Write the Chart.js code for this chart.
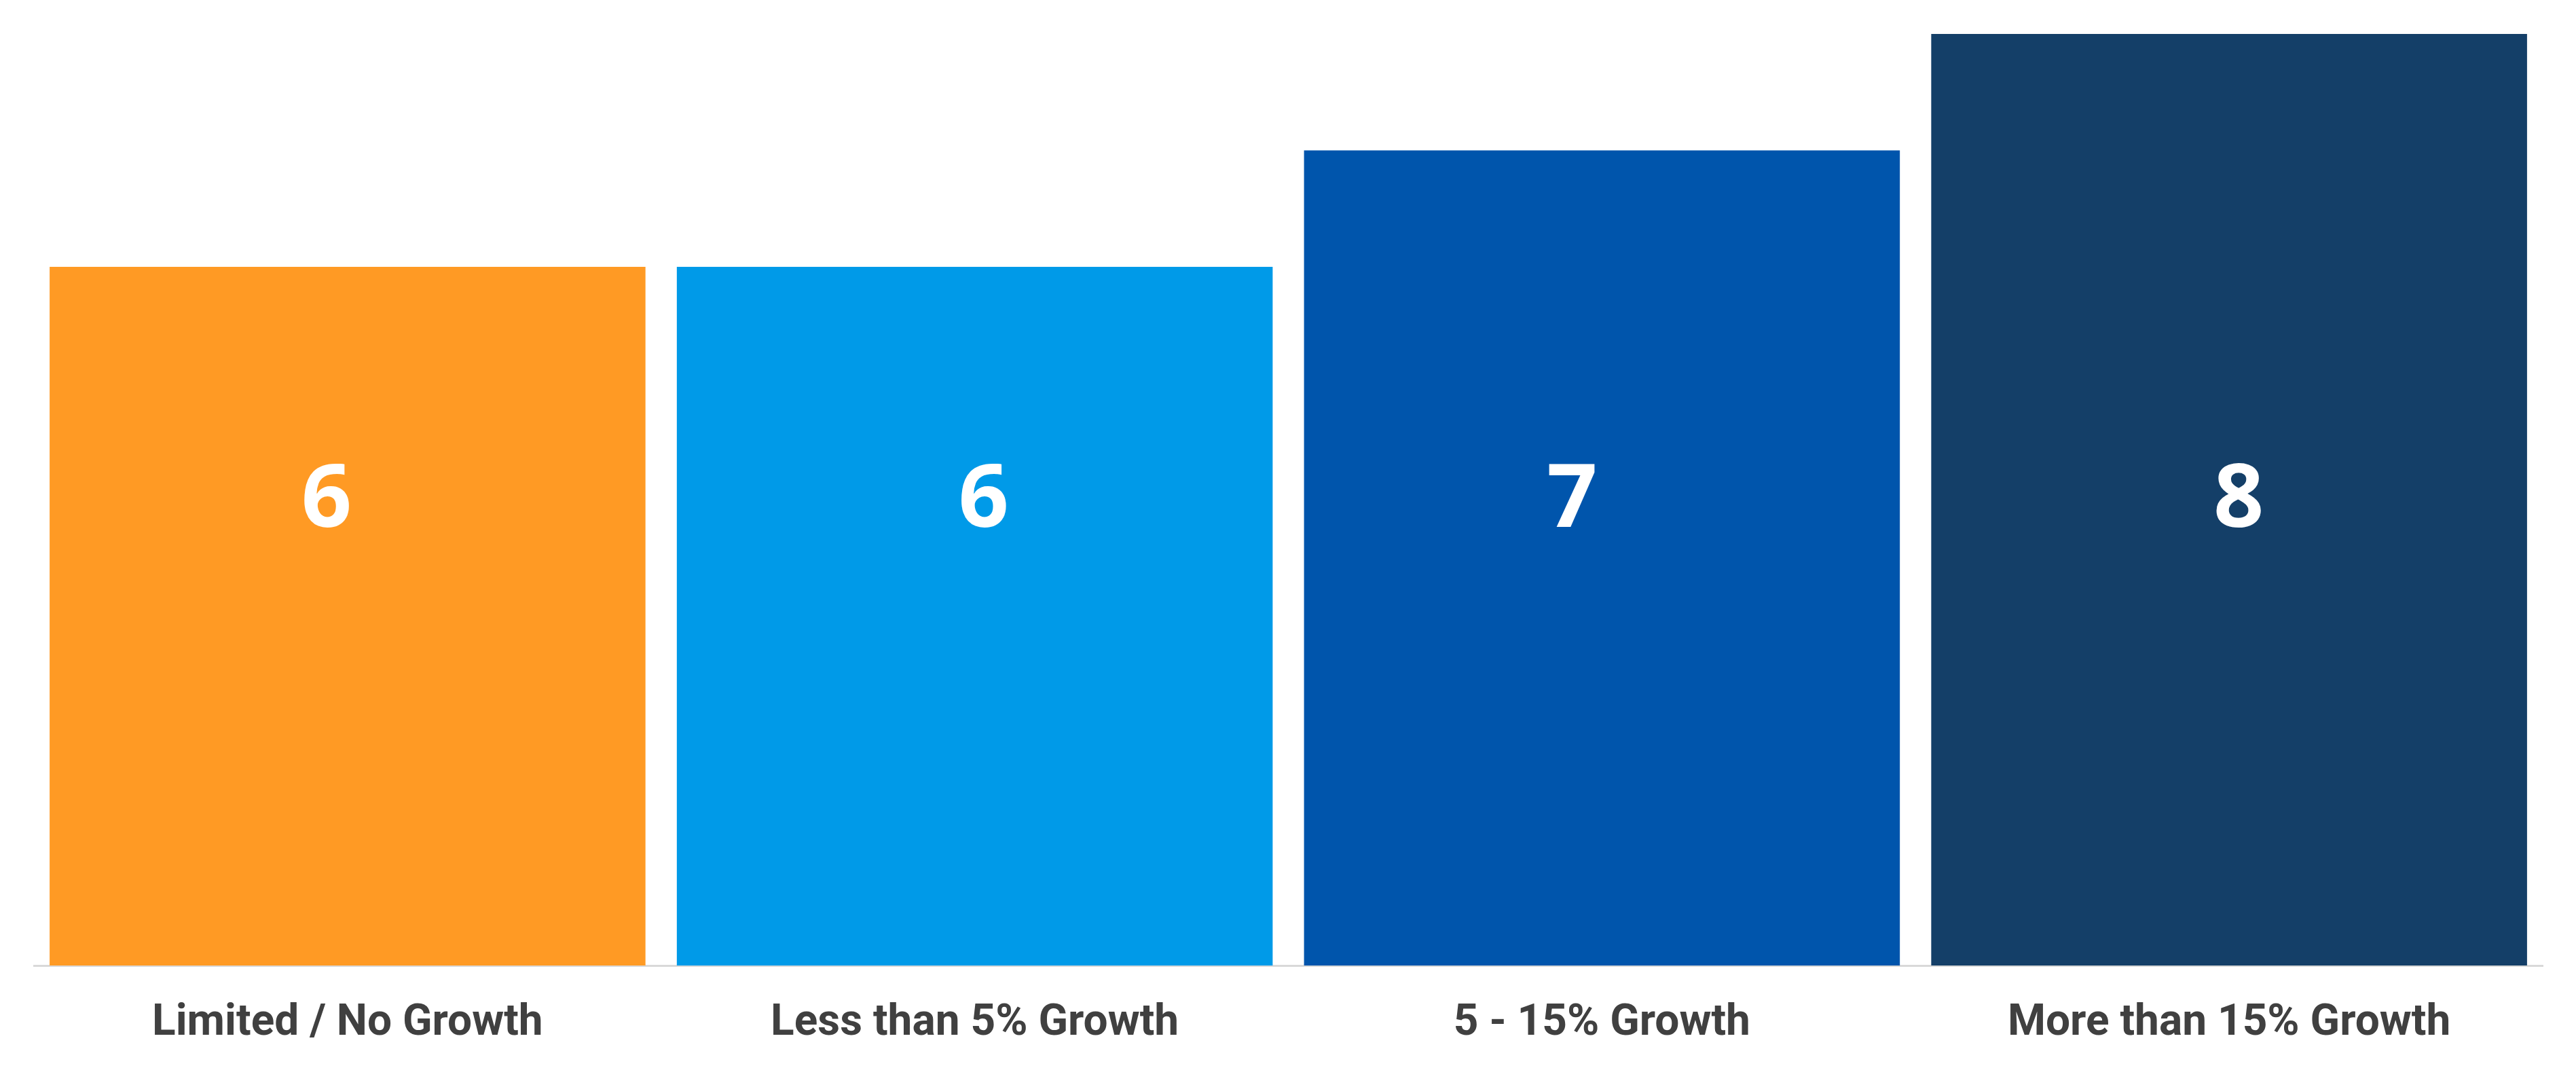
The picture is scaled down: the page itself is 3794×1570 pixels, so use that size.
<!DOCTYPE html>
<html>
<head>
<meta charset="utf-8">
<script src="https://cdn.jsdelivr.net/npm/chart.js@4/dist/chart.umd.min.js"></script>
<style>
  html, body { margin: 0; padding: 0; background: #fff; }
  #wrap { width: 3794px; height: 1570px; }
</style>
</head>
<body>
<div id="wrap"><canvas id="chart" width="3794" height="1570"></canvas></div>
<script>
// categories and values
const categories = ['Limited / No Growth', 'Less than 5% Growth', '5 - 15% Growth', 'More than 15% Growth'];
const values = [6, 6, 7, 8];
const barColors = ['#FF9A24', '#009AE8', '#0055AC', '#143F68'];

// value labels sit at the same height on every bar, nudged sideways like the original
const valueLabels = {
  id: 'valueLabels',
  afterDatasetsDraw(chart, args, opts) {
    const ctx = chart.ctx;
    const meta = chart.getDatasetMeta(0);
    const y = chart.scales.y.getPixelForValue(opts.level);
    ctx.save();
    ctx.fillStyle = '#ffffff';
    ctx.font = 'bold 130px "Open Sans"';
    ctx.textAlign = 'center';
    ctx.textBaseline = 'alphabetic';
    meta.data.forEach((bar, i) => {
      const txt = String(values[i]);
      const m = ctx.measureText(txt);
      ctx.fillText(txt, bar.x + opts.shift[i], y + m.actualBoundingBoxAscent / 2);
    });
    ctx.restore();
  }
};

new Chart(document.getElementById('chart'), {
  type: 'bar',
  data: {
    labels: categories,
    datasets: [{
      data: values,
      backgroundColor: barColors,
      barPercentage: 0.95,
      categoryPercentage: 1
    }]
  },
  options: {
    responsive: false,
    animation: false,
    layout: { padding: { left: 50, right: 49, top: 50, bottom: 0 } },
    plugins: {
      legend: { display: false },
      tooltip: { enabled: false },
      valueLabels: { level: 4.04, shift: [-31, 13, -44, 14] }
    },
    scales: {
      x: {
        grid: { display: false, drawTicks: false },
        border: { display: true, color: '#d9d9d9', width: 3 },
        ticks: {
          color: '#404040',
          font: { family: 'Roboto', weight: 'bold', size: 64 },
          padding: 48,
          maxRotation: 0
        },
        afterFit(scale) { scale.height = 148; }
      },
      y: {
        display: false,
        min: 0,
        max: 8
      }
    }
  },
  plugins: [valueLabels]
});
</script>
</body>
</html>
